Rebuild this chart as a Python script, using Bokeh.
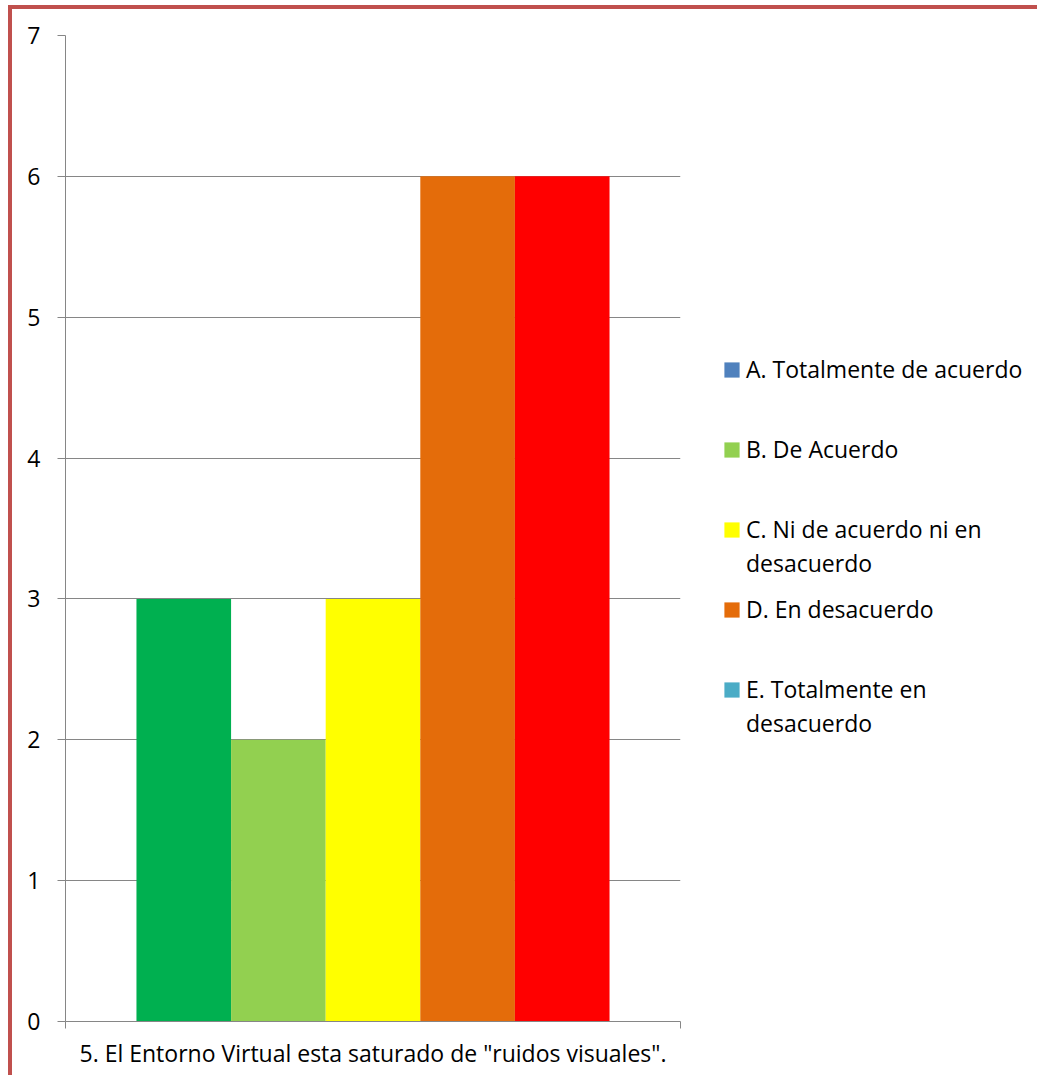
import numpy as np
from bokeh.plotting import figure
from bokeh.layouts import row
from bokeh.models import Range1d, FixedTicker, Legend, LegendItem
from bokeh.embed import file_html
from bokeh.resources import INLINE

# ---- data ----
categories = ["A. Totalmente de acuerdo", "B. De Acuerdo",
              "C. Ni de acuerdo ni en\ndesacuerdo", "D. En desacuerdo",
              "E. Totalmente en\ndesacuerdo"]
counts = [3, 2, 3, 6, 6]
bar_colors = ["#00B050", "#92D050", "#FFFF00", "#E46C0A", "#FF0000"]
legend_colors = ["#4F81BD", "#92D050", "#FFFF00", "#E46C0A", "#4BACC6"]
question = '5. El Entorno Virtual esta saturado de "ruidos visuales".'
y_ticks = [0, 1, 2, 3, 4, 5, 6, 7]

FONT = "Open Sans"
FS = "23px"
GRAY = "#868686"
H = 1066

n = len(counts)
gap = 1.5
x_end = n + gap
centers = gap / 2 + np.arange(n) + 0.5

p = figure(width=688, height=H, output_backend="svg", toolbar_location=None,
           x_range=Range1d(0, x_end), y_range=Range1d(0, 7),
           min_border_left=53, min_border_top=26, min_border_right=20,
           min_border_bottom=54)
p.outline_line_color = None
p.background_fill_color = "white"
p.border_fill_color = "white"

p.vbar(x=centers, top=counts, width=1.0, bottom=0, fill_color=bar_colors,
       line_color=None)

# y axis
p.yaxis.ticker = FixedTicker(ticks=y_ticks)
p.yaxis.axis_line_color = GRAY
p.yaxis.major_tick_line_color = GRAY
p.yaxis.major_tick_in = 0
p.yaxis.major_tick_out = 8
p.yaxis.minor_tick_line_color = None
p.yaxis.major_label_text_font = FONT
p.yaxis.major_label_text_font_size = FS
p.yaxis.major_label_text_color = "black"
p.yaxis.major_label_standoff = 17

# x axis
p.xaxis.ticker = FixedTicker(ticks=[0, x_end])
p.xaxis.major_label_overrides = {0: "", x_end: ""}
p.xaxis.axis_line_color = GRAY
p.xaxis.major_tick_line_color = GRAY
p.xaxis.major_tick_in = 0
p.xaxis.major_tick_out = 7
p.xaxis.minor_tick_line_color = None
p.xaxis.axis_label = question
p.xaxis.axis_label_text_font = FONT
p.xaxis.axis_label_text_font_size = FS
p.xaxis.axis_label_text_font_style = "normal"
p.xaxis.axis_label_text_color = "black"
p.xaxis.axis_label_standoff = 8
p.xaxis.major_label_standoff = 0

p.xgrid.grid_line_color = None
p.ygrid.ticker = FixedTicker(ticks=y_ticks)
p.ygrid.grid_line_color = GRAY
p.ygrid.grid_line_width = 1

# ---- legend panel ----
p2 = figure(width=1025 - 688, height=H, output_backend="svg", toolbar_location=None,
            x_range=Range1d(0, 1), y_range=Range1d(0, 1),
            x_axis_location=None, y_axis_location=None, min_border=0)
p2.outline_line_color = None
p2.grid.visible = False
p2.background_fill_color = "white"
p2.border_fill_color = "white"

first_lines = [c.split("\n")[0] for c in categories]
second_lines = [c.split("\n")[1] if "\n" in c else " " for c in categories]

items1, items2 = [], []
for i, (l1, l2, col) in enumerate(zip(first_lines, second_lines, legend_colors)):
    r = p2.vbar(x=[i], top=[1], width=1.0, fill_color=col, line_color=None,
                visible=False)
    items1.append(LegendItem(label=l1, renderers=[r]))
    r2 = p2.vbar(x=[i], top=[1], width=1.0, fill_alpha=0, line_color=None,
                 visible=False)
    items2.append(LegendItem(label=l2, renderers=[r2]))

common = dict(orientation="vertical", glyph_width=19, glyph_height=19,
              label_standoff=5, label_height=60,
              label_text_font=FONT, label_text_font_size=FS, label_text_color="black",
              spacing=20, padding=0, margin=0, background_fill_alpha=0,
              border_line_color=None, inactive_fill_alpha=0)
leg1 = Legend(items=items1, location=(22, 302), **common)
leg2 = Legend(items=items2, location=(22, 268), **common)
p2.add_layout(leg1, "center")
p2.add_layout(leg2, "center")

layout = row(p, p2)
layout.styles = {"border-left": "4px solid #C0504D", "border-top": "4px solid #C0504D",
                 "margin-top": "5px", "margin-left": "8px"}

open("out.html", "w").write(file_html(layout, INLINE))
